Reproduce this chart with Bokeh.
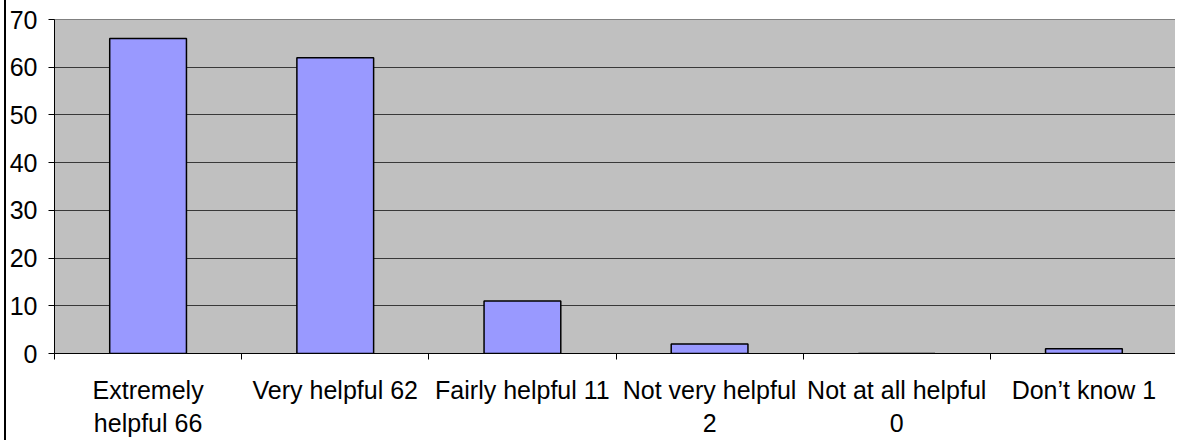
from bokeh.plotting import figure
from bokeh.models import FixedTicker, Range1d
from bokeh.embed import file_html
from bokeh.resources import INLINE

categories = ["Extremely helpful", "Very helpful", "Fairly helpful",
              "Not very helpful", "Not at all helpful", "Don’t know"]
values = [66, 62, 11, 2, 0, 1]
tick_labels = ["Extremely\nhelpful 66", "Very helpful 62", "Fairly helpful 11",
               "Not very helpful\n2", "Not at all helpful\n0", "Don’t know 1"]
y_ticks = [0, 10, 20, 30, 40, 50, 60, 70]

n = len(categories)
xs = [i + 0.5 for i in range(n)]

p = figure(width=1171, height=440, output_backend="svg", toolbar_location=None,
           x_range=Range1d(0, n), y_range=Range1d(0, 70),
           min_border_left=47, min_border_right=0, min_border_top=19, min_border_bottom=87)
p.background_fill_color = "#C0C0C0"
p.border_fill_color = "white"
p.outline_line_color = "#808080"
p.styles = {"border-left": "2px solid black", "margin-left": "4px"}

p.vbar(x=xs, top=values, width=0.41, fill_color="#9999FF", line_color="black", line_width=1.5)

p.xgrid.grid_line_color = None
p.ygrid.grid_line_color = "#383838"
p.ygrid.grid_line_width = 1
p.ygrid.ticker = FixedTicker(ticks=y_ticks)

font = "Liberation Sans"
p.yaxis.ticker = FixedTicker(ticks=y_ticks)
p.yaxis.axis_line_color = "black"
p.yaxis.major_tick_out = 6
p.yaxis.major_tick_in = 0
p.yaxis.minor_tick_line_color = None
p.yaxis.major_label_text_font = font
p.yaxis.major_label_text_font_size = "25px"
p.yaxis.major_label_text_color = "black"
p.yaxis.major_label_standoff = 11

p.xaxis.ticker = FixedTicker(ticks=xs, minor_ticks=list(range(n + 1)))
p.xaxis.major_label_overrides = {x: lab for x, lab in zip(xs, tick_labels)}
p.xaxis.axis_line_color = "black"
p.xaxis.major_tick_out = 0
p.xaxis.major_tick_in = 0
p.xaxis.major_tick_line_color = None
p.xaxis.minor_tick_out = 6
p.xaxis.minor_tick_in = 0
p.xaxis.minor_tick_line_color = "black"
p.xaxis.major_label_text_font = font
p.xaxis.major_label_text_font_size = "25px"
p.xaxis.major_label_text_color = "black"
p.xaxis.major_label_standoff = 16
p.xaxis.major_label_text_line_height = 1.2

open("out.html", "w").write(file_html(p, INLINE))
